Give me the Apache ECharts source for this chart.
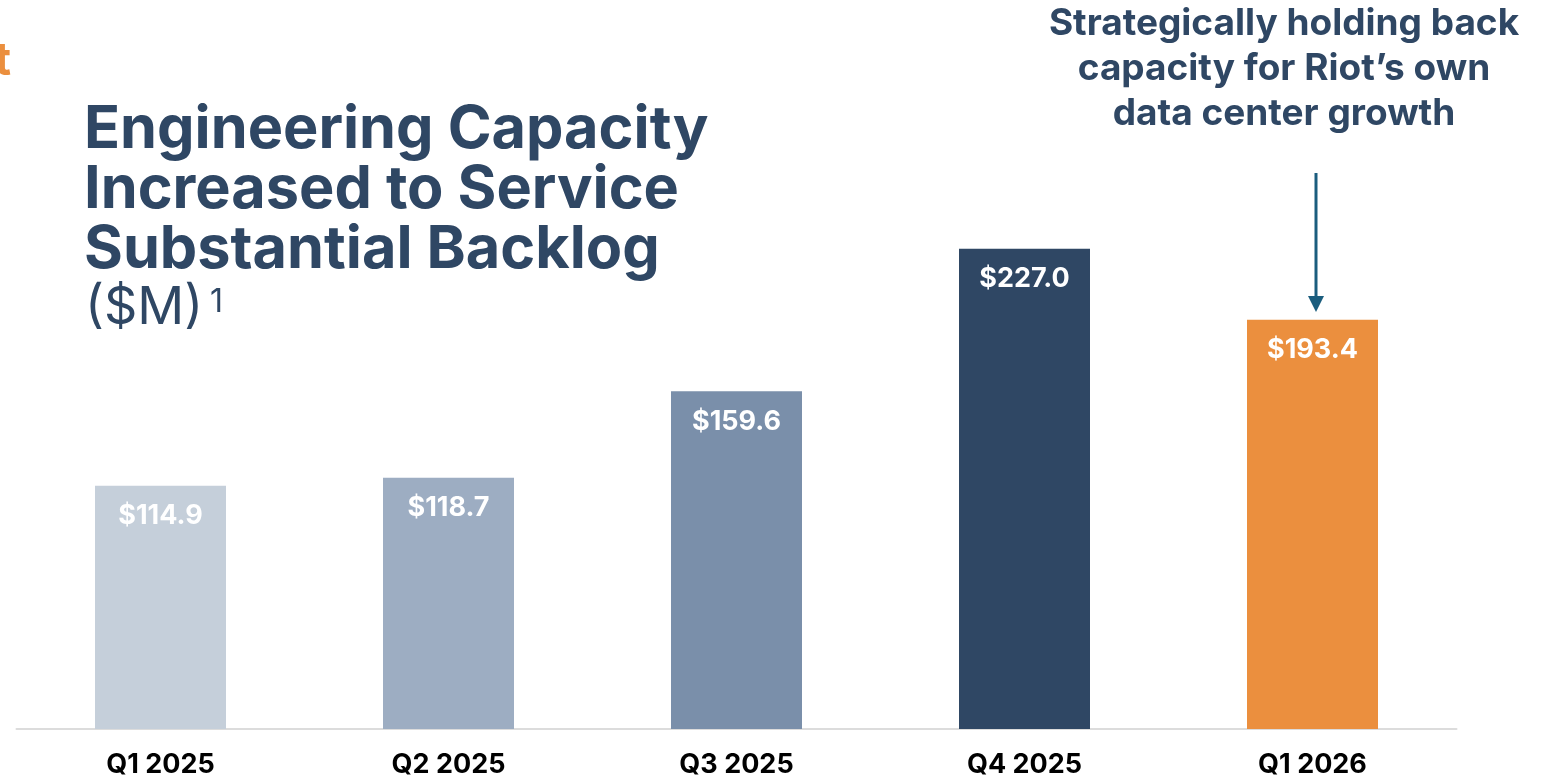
<!DOCTYPE html>
<html>
<head>
<meta charset="utf-8">
<script src="https://cdn.jsdelivr.net/npm/echarts@6/dist/echarts.min.js"></script>
<style>
html,body{margin:0;padding:0;background:#fff;}
#c{width:1542px;height:778px;}
</style>
</head>
<body>
<div id="c"></div>
<script>
const categories = ['Q1 2025', 'Q2 2025', 'Q3 2025', 'Q4 2025', 'Q1 2026'];
const values = [114.9, 118.7, 159.6, 227.0, 193.4];
const barColors = ['#c5cfda', '#9dadc2', '#7a8faa', '#2f4764', '#eb8f3e'];
const titleLines = ['Engineering Capacity', 'Increased to Service', 'Substantial Backlog'];
const noteLines = ['Strategically holding back', 'capacity for Riot\u2019s own', 'data center growth'];

const navy = '#2f4764';
const chart = echarts.init(document.getElementById('c'));

const graphics = [];
titleLines.forEach((t, i) => {
  graphics.push({
    type: 'text', left: 84, top: 101 + i * 60,
    style: { text: t, font: 'bold 59.4px Inter', fill: navy }
  });
});
graphics.push({
  type: 'text', left: 85, top: 282,
  style: { text: '($M)', font: '52px Inter', fill: navy }
});
graphics.push({
  type: 'text', left: 210, top: 286,
  style: { text: '1', font: '32px Inter', fill: navy }
});
graphics.push({
  type: 'text', right: 1531, top: 38,
  style: { text: 't', font: 'bold 46px Inter', fill: '#eb8f3e' }
});
noteLines.forEach((t, i) => {
  graphics.push({
    type: 'text', x: 1284, y: 24 + i * 45,
    style: { text: t, font: 'bold 37px Inter', fill: navy, textAlign: 'center', textVerticalAlign: 'middle' }
  });
});
graphics.push({
  type: 'line', shape: { x1: 1316, y1: 173, x2: 1316, y2: 298 },
  style: { stroke: '#1b5d7e', lineWidth: 3 }
});
graphics.push({
  type: 'polygon', shape: { points: [[1308, 296], [1324, 296], [1316, 312]] },
  style: { fill: '#1b5d7e' }
});

chart.setOption({
  animation: false,
  grid: { left: 16.5, right: 85.5, top: 200, bottom: 47, containLabel: false },
  xAxis: {
    type: 'category', data: categories,
    axisLine: { lineStyle: { color: '#dcdcdc', width: 2 } },
    axisTick: { show: false },
    axisLabel: { color: '#000', fontFamily: 'Inter', fontWeight: 'bold', fontSize: 27, margin: 22 }
  },
  yAxis: { type: 'value', min: 0, max: 250, show: false, splitLine: { show: false } },
  series: [{
    type: 'bar', barWidth: 131,
    data: values.map((v, i) => ({ value: v, itemStyle: { color: barColors[i] } })),
    label: {
      show: true, position: 'insideTop', distance: 17,
      formatter: p => '$' + p.value.toFixed(1),
      color: '#fff', fontFamily: 'Inter', fontWeight: 'bold', fontSize: 27
    }
  }],
  graphic: graphics
});
</script>
</body>
</html>
